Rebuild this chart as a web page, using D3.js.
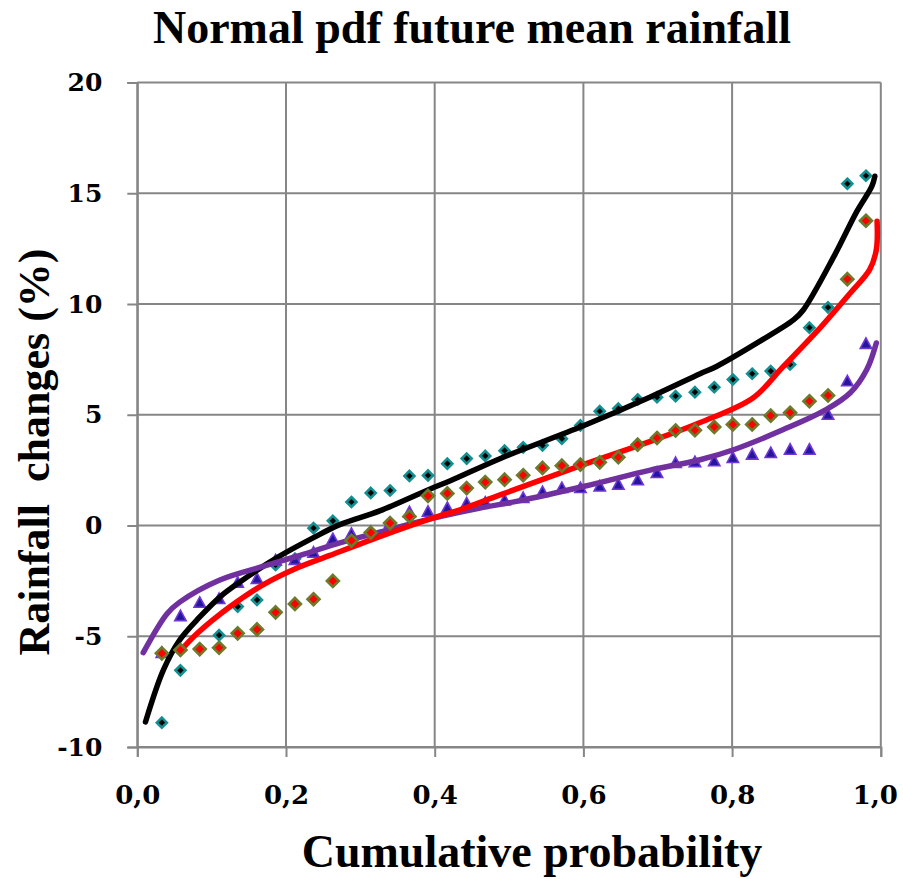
<!DOCTYPE html>
<html>
<head>
<meta charset="utf-8">
<script src="https://cdn.jsdelivr.net/npm/d3@7"></script>
<style>
  html, body { margin: 0; padding: 0; background: #fff; }
  svg { display: block; }
</style>
</head>
<body>
<div id="chart"></div>
<script>
// ---------- DATA ----------
const title = "Normal pdf future mean rainfall";
const xLabel = "Cumulative probability";
const yLabel = "Rainfall  changes (%)";

const xTicks = [0, 0.2, 0.4, 0.6, 0.8, 1.0];
const xTickLabels = ["0,0", "0,2", "0,4", "0,6", "0,8", "1,0"];
const yTicks = [-10, -5, 0, 5, 10, 15, 20];
const yTickLabels = ["-10", "-5", "0", "5", "10", "15", "20"];

// cumulative probability of each observed (ranked) value
const prob = [0.033, 0.058, 0.084, 0.110, 0.135, 0.161, 0.186, 0.212, 0.237, 0.263,
              0.288, 0.314, 0.340, 0.366, 0.391, 0.417, 0.443, 0.468, 0.494, 0.519,
              0.545, 0.571, 0.596, 0.622, 0.647, 0.673, 0.699, 0.724, 0.750, 0.776,
              0.801, 0.827, 0.852, 0.878, 0.904, 0.929, 0.955, 0.980];

// observed points (cyan diamonds)
const obsCyan = [-8.90, -6.54, -5.60, -4.95, -3.66, -3.36, -1.78, -1.50, -0.12, 0.21,
                 1.06, 1.47, 1.58, 2.24, 2.26, 2.79, 3.02, 3.14, 3.38, 3.53,
                 3.62, 3.92, 4.52, 5.16, 5.28, 5.69, 5.79, 5.84, 6.02, 6.24,
                 6.59, 6.85, 6.97, 7.27, 8.93, 9.85, 15.43, 15.79];
// observed points (red diamonds)
const obsRed = [-5.77, -5.62, -5.58, -5.52, -4.87, -4.69, -3.92, -3.54, -3.33, -2.50,
                -0.68, -0.32, 0.11, 0.41, 1.34, 1.45, 1.69, 1.96, 2.07, 2.27,
                2.60, 2.70, 2.75, 2.85, 3.08, 3.65, 3.95, 4.29, 4.30, 4.45,
                4.56, 4.56, 4.96, 5.09, 5.61, 5.87, 11.12, 13.76];
// observed points (triangles)
const obsTri = [-5.75, -4.09, -3.49, -3.32, -2.58, -2.41, -1.58, -1.55, -1.23, -0.62,
                -0.38, -0.30, 0.10, 0.60, 0.62, 0.79, 1.00, 1.03, 1.13, 1.24,
                1.51, 1.69, 1.69, 1.76, 1.84, 2.04, 2.37, 2.82, 2.86, 2.90,
                3.05, 3.20, 3.27, 3.42, 3.42, 5.00, 6.51, 8.20];

// fitted normal curves: [probability, value]
const fitBlack = [[0.011, -8.87], [0.035, -6.53], [0.057, -5.17], [0.084, -4.13], [0.111, -3.23],
                  [0.138, -2.55], [0.188, -1.45], [0.237, -0.55], [0.273, 0.05], [0.326, 0.66],
                  [0.394, 1.65], [0.421, 2.02], [0.490, 3.05], [0.600, 4.50], [0.690, 5.80],
                  [0.757, 6.85], [0.779, 7.18], [0.837, 8.31], [0.883, 9.29], [0.896, 9.74],
                  [0.937, 12.15], [0.968, 14.19], [0.988, 15.32], [0.992, 15.77]];
const fitRed = [[0.057, -5.70], [0.080, -4.89], [0.125, -3.66], [0.169, -2.68], [0.214, -1.93],
                [0.259, -1.35], [0.326, -0.50], [0.394, 0.30], [0.434, 0.71], [0.488, 1.38],
                [0.600, 2.75], [0.690, 3.80], [0.757, 4.65], [0.828, 5.76], [0.869, 7.18],
                [0.914, 8.76], [0.959, 10.50], [0.985, 11.55], [0.994, 12.46], [0.995, 13.74]];
const fitPurple = [[0.008, -5.74], [0.040, -3.98], [0.057, -3.46], [0.111, -2.46], [0.169, -1.85],
                   [0.214, -1.40], [0.268, -0.83], [0.326, -0.30], [0.394, 0.30], [0.461, 0.79],
                   [0.510, 1.09], [0.600, 1.76], [0.690, 2.50], [0.757, 2.97], [0.802, 3.42],
                   [0.869, 4.33], [0.927, 5.24], [0.959, 5.99], [0.981, 7.03], [0.994, 8.24]];

// ---------- LAYOUT ----------
const W = 903, H = 879;
const plot = { left: 137.3, right: 880.8, top: 82.5, bottom: 747 };

const svg = d3.select("#chart").append("svg")
  .attr("width", W).attr("height", H);

const x = d3.scaleLinear().domain([0, 1]).range([plot.left, plot.right]);
const y = d3.scaleLinear().domain([-10, 20]).range([plot.bottom, plot.top]);

const gridColor = "#868686";
const tickFont = "'DejaVu Serif', serif";
const labelFont = "'Liberation Serif', 'Times New Roman', serif";

// grid
const grid = svg.append("g");
grid.selectAll("line.h").data(yTicks).enter().append("line")
  .attr("x1", plot.left).attr("x2", plot.right)
  .attr("y1", d => y(d)).attr("y2", d => y(d))
  .attr("stroke", gridColor).attr("stroke-width", 2);
grid.selectAll("line.v").data(xTicks).enter().append("line")
  .attr("y1", plot.top).attr("y2", plot.bottom)
  .attr("x1", d => x(d)).attr("x2", d => x(d))
  .attr("stroke", gridColor).attr("stroke-width", 2);

// axes
const xAxis = d3.axisBottom(x).tickValues(xTicks)
  .tickFormat((d, i) => xTickLabels[i]).tickSize(10).tickPadding(29);
const gx = svg.append("g").attr("transform", `translate(0,${plot.bottom})`).call(xAxis);
gx.select(".domain").attr("stroke", gridColor).attr("stroke-width", 2);
gx.selectAll(".tick line").attr("stroke", gridColor).attr("stroke-width", 2);
gx.selectAll(".tick text")
  .attr("font-family", tickFont).attr("font-weight", "bold").attr("font-size", 26)
  .attr("fill", "#000")
  .attr("dx", (d, i) => i === xTicks.length - 1 ? -6 : 0);

const yAxis = d3.axisLeft(y).tickValues(yTicks)
  .tickFormat((d, i) => yTickLabels[i]).tickSize(10).tickPadding(25);
const gy = svg.append("g").attr("transform", `translate(${plot.left},0)`).call(yAxis);
gy.select(".domain").attr("stroke", gridColor).attr("stroke-width", 2);
gy.selectAll(".tick line").attr("stroke", gridColor).attr("stroke-width", 2);
gy.selectAll(".tick text")
  .attr("font-family", tickFont).attr("font-weight", "bold").attr("font-size", 25)
  .attr("fill", "#000");

// ---------- MARKS ----------
const diamond = s => `M0,${-s}L${s},0L0,${s}L${-s},0Z`;
const triangle = s => `M0,${-s}L${s * 0.95},${s * 0.75}L${-s * 0.95},${s * 0.75}Z`;

const cyanData = prob.map((p, i) => [p, obsCyan[i]]);
const redData = prob.map((p, i) => [p, obsRed[i]]);
const triData = prob.map((p, i) => [p, obsTri[i]]);

// cyan diamonds
svg.append("g").selectAll("path").data(cyanData).enter().append("path")
  .attr("d", diamond(5))
  .attr("transform", d => `translate(${x(d[0])},${y(d[1])})`)
  .attr("fill", "#000").attr("stroke", "#128f91").attr("stroke-width", 2.6);

// triangles
svg.append("g").selectAll("path").data(triData).enter().append("path")
  .attr("d", triangle(6))
  .attr("transform", d => `translate(${x(d[0])},${y(d[1])})`)
  .attr("fill", "#23169a").attr("stroke", "#7036d8").attr("stroke-width", 1.6);

// fitted lines
const line = d3.line().x(d => x(d[0])).y(d => y(d[1])).curve(d3.curveCatmullRom.alpha(0.5));
const lines = svg.append("g").attr("fill", "none")
  .attr("stroke-linecap", "round").attr("stroke-linejoin", "round");
lines.append("path").datum(fitBlack).attr("d", line).attr("stroke", "#000").attr("stroke-width", 5.5);
lines.append("path").datum(fitPurple).attr("d", line).attr("stroke", "#7030a0").attr("stroke-width", 5.5);
lines.append("path").datum(fitRed).attr("d", line).attr("stroke", "#ff0000").attr("stroke-width", 5.5);

// red diamonds
svg.append("g").selectAll("path").data(redData).enter().append("path")
  .attr("d", diamond(6))
  .attr("transform", d => `translate(${x(d[0])},${y(d[1])})`)
  .attr("fill", "#ff0000").attr("stroke", "#6b7b2b").attr("stroke-width", 2.6);

// ---------- TEXT ----------
svg.append("text")
  .attr("x", 472).attr("y", 43)
  .attr("text-anchor", "middle")
  .attr("font-family", labelFont).attr("font-weight", "bold").attr("font-size", 46)
  .text(title);

svg.append("text")
  .attr("x", 532).attr("y", 867)
  .attr("text-anchor", "middle")
  .attr("font-family", labelFont).attr("font-weight", "bold").attr("font-size", 46)
  .text(xLabel);

svg.append("text")
  .attr("transform", `translate(49,452) rotate(-90)`)
  .attr("text-anchor", "middle")
  .attr("font-family", labelFont).attr("font-weight", "bold").attr("font-size", 44)
  .style("white-space", "pre")
  .attr("xml:space", "preserve")
  .text(yLabel);
</script>
</body>
</html>
